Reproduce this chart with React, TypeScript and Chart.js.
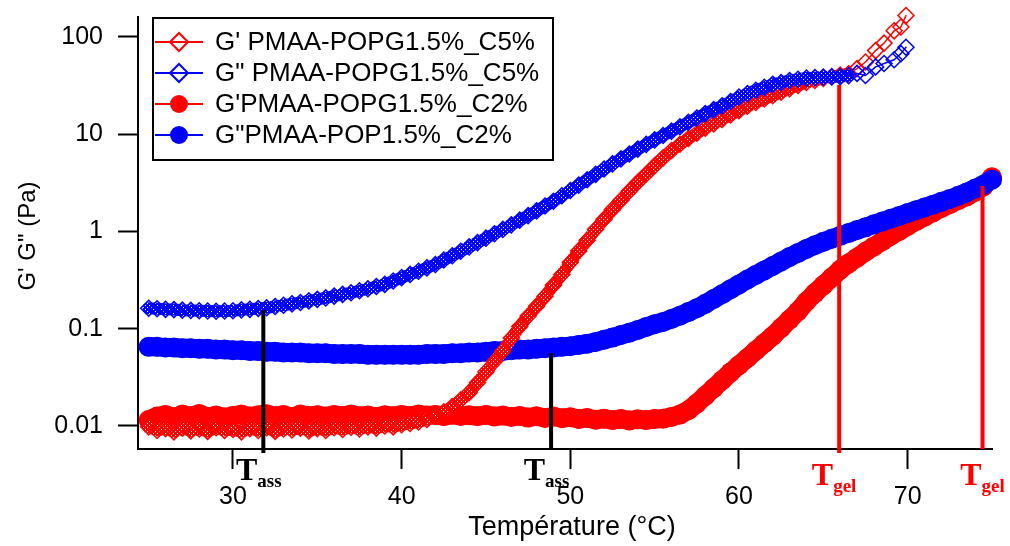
import React, { useEffect, useRef } from 'react';
import { Chart, registerables } from 'chart.js';

Chart.register(...registerables);

// ---------- data ----------
const tempsC5 = [
  25, 25.5, 26, 26.5, 27, 27.5, 28, 28.5, 29, 29.5,
  30, 30.5, 31, 31.5, 32, 32.5, 33, 33.5, 34, 34.5,
  35, 35.5, 36, 36.5, 37, 37.5, 38, 38.5, 39, 39.5,
  40, 40.5, 41, 41.5, 42, 42.5, 43, 43.5, 44, 44.5,
  45, 45.5, 46, 46.5, 47, 47.5, 48, 48.5, 49, 49.5,
  50, 50.5, 51, 51.5, 52, 52.5, 53, 53.5, 54, 54.5,
  55, 55.5, 56, 56.5, 57, 57.5, 58, 58.5, 59, 59.5,
  60, 60.5, 61, 61.5, 62, 62.5, 63, 63.5, 64, 64.5,
  65, 65.5, 66, 66.5, 67, 67.5, 68.1, 68.6, 69.2, 69.6, 69.9,
];

// G' PMAA-POPG1.5%_C5% (red open diamonds)
const gPrimeC5 = [
  0.0098, 0.0090, 0.0094, 0.0087, 0.0095, 0.0089, 0.0093, 0.0088, 0.0096, 0.0090,
  0.0092, 0.0087, 0.0094, 0.0090, 0.0096, 0.0088, 0.0093, 0.0091, 0.0095, 0.0089,
  0.0094, 0.0090, 0.0096, 0.0092, 0.0097, 0.0093, 0.0098, 0.0095, 0.0100, 0.0098,
  0.0103, 0.0106, 0.0110, 0.0117, 0.0127, 0.0140, 0.0158, 0.0185, 0.022, 0.028,
  0.036, 0.046, 0.059, 0.080, 0.105, 0.135, 0.17, 0.215, 0.28, 0.36,
  0.48, 0.63, 0.81, 1.05, 1.33, 1.68, 2.09, 2.6, 3.2, 3.89,
  4.73, 5.69, 6.76, 7.85, 9.0, 10.2, 11.5, 12.7, 14.1, 15.7,
  17.4, 19.3, 21.1, 22.9, 24.8, 26.9, 29.2, 31.6, 33.9, 35.5,
  37.2, 38.9, 40.3, 41.7, 47, 55, 72, 86, 115, 126, 165,
];

// G" PMAA-POPG1.5%_C5% (blue open diamonds)
const gDoubleC5 = [
  0.162, 0.160, 0.158, 0.157, 0.155, 0.154, 0.153, 0.152, 0.151, 0.152,
  0.153, 0.156, 0.158, 0.161, 0.164, 0.169, 0.174, 0.180, 0.186, 0.193,
  0.200, 0.207, 0.216, 0.225, 0.234, 0.245, 0.257, 0.271, 0.285, 0.309,
  0.335, 0.361, 0.389, 0.422, 0.457, 0.507, 0.562, 0.624, 0.692, 0.767,
  0.851, 0.944, 1.047, 1.167, 1.303, 1.452, 1.622, 1.82, 2.04, 2.32,
  2.63, 2.99, 3.39, 3.85, 4.37, 4.93, 5.56, 6.24, 7.0, 7.82,
  8.71, 9.66, 10.7, 11.9, 13.2, 14.6, 16.2, 17.8, 19.5, 21.6,
  24.0, 26.0, 28.2, 30.2, 32.4, 33.9, 35.5, 36.6, 37.6, 38.0,
  38.5, 38.7, 38.9, 39.8, 42, 40, 49, 53, 58, 67, 78,
];

const tempsC2 = [
  25, 25.5, 26, 26.5, 27, 27.5, 28, 28.5, 29, 29.5,
  30, 30.5, 31, 31.5, 32, 32.5, 33, 33.5, 34, 34.5,
  35, 35.5, 36, 36.5, 37, 37.5, 38, 38.5, 39, 39.5,
  40, 40.5, 41, 41.5, 42, 42.5, 43, 43.5, 44, 44.5,
  45, 45.5, 46, 46.5, 47, 47.5, 48, 48.5, 49, 49.5,
  50, 50.5, 51, 51.5, 52, 52.5, 53, 53.5, 54, 54.5,
  55, 55.5, 56, 56.5, 57, 57.5, 58, 58.5, 59, 59.5,
  60, 60.5, 61, 61.5, 62, 62.5, 63, 63.5, 64, 64.5,
  65, 65.5, 66, 66.5, 67, 67.5, 68, 68.5, 69, 69.5,
  70, 70.5, 71, 71.5, 72, 72.5, 73, 73.5, 74, 74.5,
  75,
];

// G'PMAA-POPG1.5%_C2% (red filled circles)
const gPrimeC2 = [
  0.0115, 0.0125, 0.0130, 0.0122, 0.0131, 0.0126, 0.0133, 0.0124, 0.0128, 0.0122,
  0.0127, 0.0131, 0.0125, 0.0129, 0.0132, 0.0126, 0.0130, 0.0124, 0.0131, 0.0127,
  0.0129, 0.0125, 0.0130, 0.0127, 0.0131, 0.0126, 0.0128, 0.0124, 0.0129, 0.0126,
  0.0130, 0.0127, 0.0131, 0.0128, 0.0130, 0.0126, 0.0131, 0.0127, 0.0129, 0.0126,
  0.0130, 0.0125, 0.0128, 0.0124, 0.0127, 0.0122, 0.0126, 0.0121, 0.0125, 0.0120,
  0.0123, 0.0118, 0.0121, 0.0116, 0.0119, 0.0115, 0.0118, 0.0114, 0.0117, 0.0115,
  0.0118, 0.0119, 0.0124, 0.0131, 0.0145, 0.017, 0.0204, 0.0245, 0.0295, 0.0355,
  0.0422, 0.050, 0.0596, 0.0708, 0.0841, 0.102, 0.124, 0.151, 0.19, 0.232,
  0.279, 0.335, 0.403, 0.468, 0.537, 0.617, 0.70, 0.794, 0.902, 1.01,
  1.135, 1.274, 1.413, 1.567, 1.738, 1.905, 2.09, 2.29, 2.55, 2.9,
  3.6,
];

// G"PMAA-POP1.5%_C2% (blue filled circles)
const gDoubleC2 = [
  0.065, 0.065, 0.064, 0.064, 0.063, 0.063, 0.062, 0.062, 0.061, 0.061,
  0.060, 0.060, 0.059, 0.059, 0.058, 0.058, 0.057, 0.057, 0.057, 0.056,
  0.056, 0.056, 0.055, 0.055, 0.055, 0.055, 0.054, 0.054, 0.054, 0.054,
  0.054, 0.054, 0.054, 0.055, 0.055, 0.055, 0.056, 0.056, 0.057, 0.057,
  0.058, 0.059, 0.059, 0.060, 0.061, 0.061, 0.062, 0.063, 0.064, 0.065,
  0.066, 0.068, 0.070, 0.073, 0.077, 0.081, 0.086, 0.091, 0.097, 0.104,
  0.111, 0.117, 0.126, 0.136, 0.148, 0.162, 0.18, 0.202, 0.226, 0.254,
  0.285, 0.32, 0.357, 0.397, 0.44, 0.49, 0.545, 0.60, 0.66, 0.72,
  0.78, 0.84, 0.90, 0.96, 1.03, 1.10, 1.18, 1.26, 1.35, 1.44,
  1.54, 1.65, 1.76, 1.88, 2.01, 2.15, 2.32, 2.51, 2.75, 3.02,
  3.40,
];

const xTicks = [30, 40, 50, 60, 70];
const yTicks = [0.01, 0.1, 1, 10, 100];
const seriesLabels = [
  "G' PMAA-POPG1.5%_C5%",
  'G" PMAA-POPG1.5%_C5%',
  "G'PMAA-POPG1.5%_C2%",
  'G"PMAA-POP1.5%_C2%',
];
const xTitle = 'Température (°C)';
const yTitle = 'G\' G" (Pa)';

// temperature up to which the C5% measurement is densely sampled
const denseUntil = 66.5;

// annotation lines (temperature, top value)
const annoTemps = [31.8, 48.86, 65.94, 74.44];
const annoTops = [0.155, 0.056, 31.9, 2.92];
const annoSubs = ['ass', 'ass', 'gel', 'gel'];

const RED = '#ff0000';
const BLUE = '#0000ff';
const SANS = "'Liberation Sans', Arial, sans-serif";
const SERIF = "'Liberation Serif', 'Times New Roman', serif";

const annoColors = ['#000000', '#000000', RED, RED];
const annoExt = [4, 0, 4, 0];
const annoLabelDx = [-6, -6, -6, -1];
const annoLabelDy = [31, 31, 36, 36];

const legendStyles = [
  { color: RED, shape: 'diamond' },
  { color: BLUE, shape: 'diamond' },
  { color: RED, shape: 'circle' },
  { color: BLUE, shape: 'circle' },
];

function makeMesh(color: string): CanvasPattern | string {
  const c = document.createElement('canvas');
  c.width = 4;
  c.height = 4;
  const g = c.getContext('2d');
  if (!g) return color;
  g.fillStyle = color;
  g.fillRect(0, 0, 4, 4);
  g.fillStyle = '#ffffff';
  g.fillRect(1, 1, 1, 1);
  g.fillRect(3, 3, 1, 1);
  const p = g.createPattern(c, 'repeat');
  return p || color;
}

function drawMarker(ctx: CanvasRenderingContext2D, shape: string, color: string, cx: number, cy: number) {
  ctx.save();
  if (shape === 'diamond') {
    const r = 9;
    ctx.strokeStyle = color;
    ctx.lineWidth = 2;
    ctx.fillStyle = '#ffffff';
    ctx.beginPath();
    ctx.moveTo(cx, cy - r);
    ctx.lineTo(cx + r, cy);
    ctx.lineTo(cx, cy + r);
    ctx.lineTo(cx - r, cy);
    ctx.closePath();
    ctx.fill();
    ctx.stroke();
    ctx.beginPath();
    ctx.moveTo(cx - r, cy);
    ctx.lineTo(cx + r, cy);
    ctx.stroke();
  } else {
    ctx.fillStyle = color;
    ctx.beginPath();
    ctx.arc(cx, cy, 9, 0, Math.PI * 2);
    ctx.fill();
  }
  ctx.restore();
}

const overlayPlugin = {
  id: 'overlay',
  afterDatasetsDraw(chart: any) {
    const { ctx, chartArea } = chart;
    const x = chart.scales.x;
    const y = chart.scales.y;
    ctx.save();
    annoTemps.forEach((t, i) => {
      const px = x.getPixelForValue(t);
      const top = y.getPixelForValue(annoTops[i]);
      ctx.strokeStyle = annoColors[i];
      ctx.lineWidth = 4;
      ctx.beginPath();
      ctx.moveTo(px, top);
      ctx.lineTo(px, chartArea.bottom + annoExt[i]);
      ctx.stroke();
    });
    ctx.restore();
  },
  afterDraw(chart: any) {
    const { ctx, chartArea } = chart;
    const x = chart.scales.x;
    ctx.save();

    // T labels
    annoTemps.forEach((t, i) => {
      const px = x.getPixelForValue(t) + annoLabelDx[i];
      const base = chartArea.bottom + annoLabelDy[i];
      ctx.fillStyle = annoColors[i];
      ctx.textBaseline = 'alphabetic';
      ctx.font = `bold 32px ${SERIF}`;
      ctx.textAlign = 'right';
      ctx.fillText('T', px, base);
      ctx.font = `bold 19px ${SERIF}`;
      ctx.textAlign = 'left';
      ctx.fillText(annoSubs[i], px, base + 7);
    });

    // legend
    const lx = 153, ly = 18, lw = 400, lh = 142;
    ctx.fillStyle = '#ffffff';
    ctx.fillRect(lx, ly, lw, lh);
    ctx.strokeStyle = '#000000';
    ctx.lineWidth = 2;
    ctx.strokeRect(lx, ly, lw, lh);
    seriesLabels.forEach((label, i) => {
      const cy = 42 + i * 31;
      const st = legendStyles[i];
      ctx.strokeStyle = st.color;
      ctx.lineWidth = 2;
      ctx.beginPath();
      ctx.moveTo(155, cy);
      ctx.lineTo(203, cy);
      ctx.stroke();
      drawMarker(ctx, st.shape, st.color, 179, cy);
      ctx.fillStyle = '#000000';
      ctx.font = `26px ${SANS}`;
      ctx.textAlign = 'left';
      ctx.textBaseline = 'middle';
      ctx.fillText(label, 215, cy + 1);
    });

    // axis titles
    ctx.fillStyle = '#000000';
    ctx.textAlign = 'center';
    ctx.textBaseline = 'middle';
    ctx.font = `27px ${SANS}`;
    ctx.fillText(xTitle, 572, 528);
    ctx.font = `24px ${SANS}`;
    ctx.save();
    ctx.translate(28, 236);
    ctx.rotate(-Math.PI / 2);
    ctx.fillText(yTitle, 0, 0);
    ctx.restore();

    ctx.restore();
  },
};

function toPoints(xs: number[], ys: number[]) {
  return xs.map((v, i) => ({ x: v, y: ys[i] }));
}

export default function App() {
  const ref = useRef<HTMLCanvasElement | null>(null);

  useEffect(() => {
    if (!ref.current) return;
    const redMesh = makeMesh(RED);
    const blueMesh = makeMesh(BLUE);
    const isSparse = (c: any) => c.p1.parsed.x > denseUntil;

    const diamond = (color: string, mesh: any, values: number[], label: string, order: number) => ({
      label,
      data: toPoints(tempsC5, values),
      showLine: true,
      clip: false as any,
      borderColor: color,
      borderWidth: 12,
      borderCapStyle: 'round',
      borderJoinStyle: 'round',
      segment: {
        borderWidth: (c: any) => (isSparse(c) ? 1.5 : 12),
        borderColor: (c: any) => (isSparse(c) ? color : mesh),
      },
      backgroundColor: 'rgba(0,0,0,0)',
      pointStyle: 'rectRot',
      pointRadius: 8,
      pointBorderWidth: 1.5,
      pointBorderColor: color,
      pointBackgroundColor: 'rgba(0,0,0,0)',
      order,
    });

    const circle = (color: string, values: number[], label: string, order: number) => ({
      label,
      data: toPoints(tempsC2, values),
      showLine: true,
      clip: false as any,
      borderColor: color,
      borderWidth: 19,
      borderCapStyle: 'round',
      borderJoinStyle: 'round',
      backgroundColor: color,
      pointStyle: 'circle',
      pointRadius: 10,
      pointBorderWidth: 0,
      pointBackgroundColor: color,
      order,
    });

    const chart = new Chart(ref.current, {
      type: 'scatter',
      data: {
        datasets: [
          diamond(RED, redMesh, gPrimeC5, seriesLabels[0], 1),
          diamond(BLUE, blueMesh, gDoubleC5, seriesLabels[1], 0),
          circle(RED, gPrimeC2, seriesLabels[2], 3),
          circle(BLUE, gDoubleC2, seriesLabels[3], 2),
        ] as any,
      },
      options: {
        animation: false,
        responsive: false,
        devicePixelRatio: 1,
        layout: { padding: { top: 17, right: 18, left: 0, bottom: 0 } },
        plugins: { legend: { display: false }, tooltip: { enabled: false } },
        scales: {
          x: {
            type: 'linear',
            min: 24.37,
            max: 75,
            afterBuildTicks: (s: any) => {
              s.ticks = xTicks.map((v) => ({ value: v }));
            },
            afterFit: (s: any) => {
              s.height = 97;
              s.paddingLeft = 0;
              s.paddingRight = 0;
            },
            ticks: {
              autoSkip: false,
              maxRotation: 0,
              padding: 13,
              color: '#000000',
              font: { family: SANS, size: 25 },
              callback: (v: any) => String(v),
            },
            grid: {
              drawOnChartArea: false,
              drawTicks: true,
              tickLength: 20,
              tickWidth: 2,
              tickColor: '#000000',
            },
            border: { display: true, color: '#000000', width: 2 },
          },
          y: {
            type: 'logarithmic',
            min: 0.0058,
            max: 159.5,
            afterBuildTicks: (s: any) => {
              s.ticks = yTicks.map((v) => ({ value: v }));
            },
            afterFit: (s: any) => {
              s.width = 138;
              s.paddingTop = 0;
              s.paddingBottom = 0;
            },
            ticks: {
              autoSkip: false,
              padding: 15,
              color: '#000000',
              font: { family: SANS, size: 25 },
              callback: (v: any) => String(v),
            },
            grid: {
              drawOnChartArea: false,
              drawTicks: true,
              tickLength: 20,
              tickWidth: 2,
              tickColor: '#000000',
            },
            border: { display: true, color: '#000000', width: 2 },
          },
        },
      } as any,
      plugins: [overlayPlugin],
    });
    return () => chart.destroy();
  }, []);

  return (
    <div style={{ position: 'fixed', left: 0, top: 0, width: 1010, height: 546, background: '#ffffff' }}>
      <canvas ref={ref} width={1010} height={546} style={{ width: 1010, height: 546, display: 'block' }} />
    </div>
  );
}
